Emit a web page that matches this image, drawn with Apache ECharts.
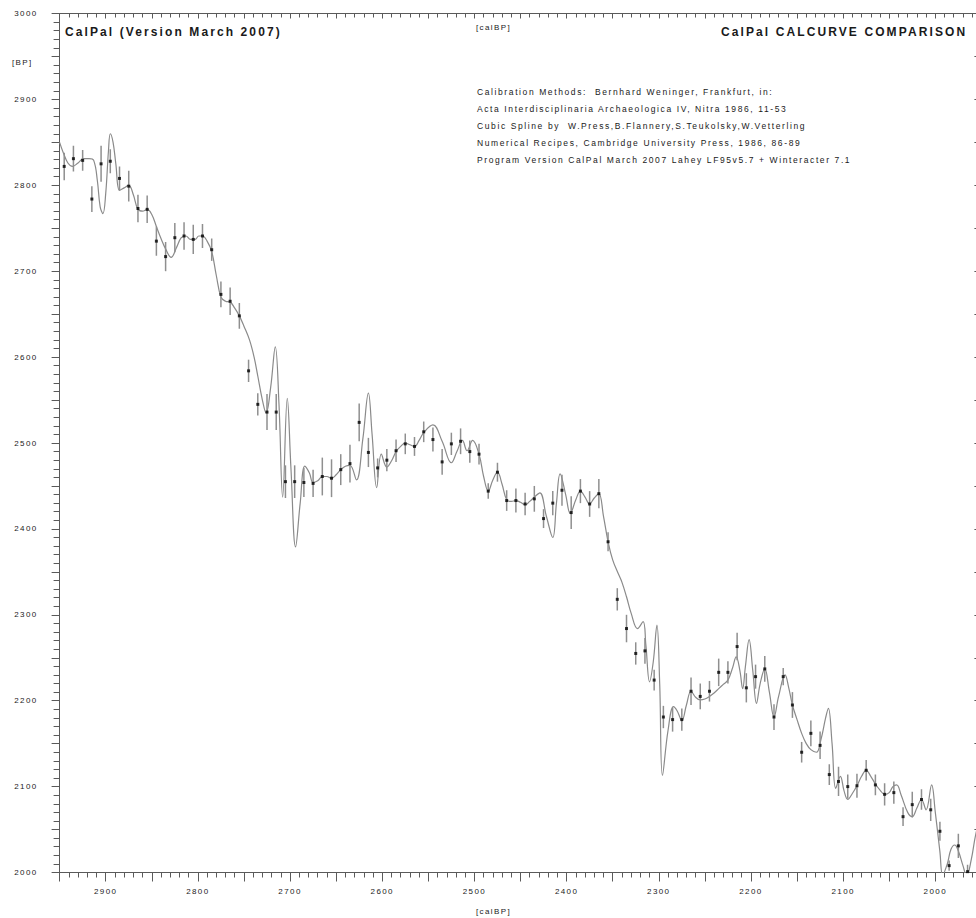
<!DOCTYPE html>
<html>
<head>
<meta charset="utf-8">
<script src="https://cdn.jsdelivr.net/npm/echarts@6/dist/echarts.min.js"></script>
<style>
  html, body { margin: 0; padding: 0; background: #fff; }
  #chart { width: 976px; height: 918px; }
  #chart text { letter-spacing: 1.4px; white-space: pre; }
  #chart text[style*="8.5px"] { letter-spacing: 1.6px; }
  #chart text[style*="bold"] { letter-spacing: 2.1px; }
</style>
</head>
<body>
<div id="chart"></div>
<script>
// Decadal 14C ages (cal BP, BP, 1-sigma)
const pointYears = [2945, 2935, 2925, 2915, 2905, 2895, 2885, 2875, 2865, 2855,
  2845, 2835, 2825, 2815, 2805, 2795, 2785, 2775, 2765, 2755,
  2745, 2735, 2725, 2715, 2705, 2695, 2685, 2675, 2665, 2655,
  2645, 2635, 2625, 2615, 2605, 2595, 2585, 2575, 2565, 2555,
  2545, 2535, 2525, 2515, 2505, 2495, 2485, 2475, 2465, 2455,
  2445, 2435, 2425, 2415, 2405, 2395, 2385, 2375, 2365, 2355,
  2345, 2335, 2325, 2315, 2305, 2295, 2285, 2275, 2265, 2255,
  2245, 2235, 2225, 2215, 2205, 2195, 2185, 2175, 2165, 2155,
  2145, 2135, 2125, 2115, 2105, 2095, 2085, 2075, 2065, 2055,
  2045, 2035, 2025, 2015, 2005, 1995, 1985, 1975, 1965];
const pointBP = [2822, 2831, 2829, 2784, 2825, 2828, 2808, 2799, 2773, 2772,
  2735, 2717, 2739, 2741, 2737, 2741, 2725, 2673, 2665, 2648,
  2584, 2545, 2536, 2536, 2455, 2455, 2454, 2453, 2461, 2459,
  2469, 2476, 2524, 2489, 2471, 2480, 2491, 2499, 2496, 2513,
  2504, 2478, 2499, 2502, 2490, 2487, 2444, 2466, 2433, 2433,
  2429, 2435, 2412, 2430, 2445, 2419, 2444, 2429, 2441, 2385,
  2318, 2284, 2255, 2258, 2224, 2181, 2178, 2178, 2211, 2205,
  2211, 2233, 2233, 2263, 2215, 2228, 2237, 2181, 2228, 2195,
  2140, 2162, 2148, 2114, 2106, 2100, 2101, 2119, 2102, 2091,
  2093, 2065, 2079, 2085, 2073, 2048, 2008, 2031, 2001];
const pointSigma = [16, 15, 12, 15, 21, 14, 14, 18, 16, 16,
  17, 17, 17, 16, 17, 14, 13, 15, 16, 15,
  13, 13, 21, 21, 19, 19, 17, 16, 22, 22,
  18, 22, 22, 17, 11, 13, 13, 12, 11, 12,
  14, 15, 13, 15, 13, 12, 9, 11, 12, 14,
  13, 15, 11, 14, 18, 19, 14, 15, 17, 11,
  13, 16, 13, 15, 12, 13, 14, 13, 16, 15,
  12, 16, 13, 16, 17, 14, 15, 15, 10, 15,
  12, 15, 16, 12, 17, 14, 14, 12, 12, 13,
  13, 11, 15, 12, 13, 11, 6, 14, 8];

// CalPal spline calibration curve (cal BP, BP)
const curveYears = [2950, 2946, 2941, 2936, 2930, 2924, 2918, 2913, 2909, 2906,
  2903, 2900, 2897, 2895, 2892, 2889, 2885, 2880, 2875, 2870,
  2865, 2860, 2855, 2850, 2845, 2840, 2835, 2829, 2823, 2818,
  2813, 2808, 2803, 2799, 2795, 2790, 2785, 2780, 2775, 2770,
  2765, 2760, 2755, 2750, 2744, 2739, 2735, 2730, 2726, 2721,
  2716, 2712, 2708, 2703, 2699, 2694, 2689, 2684, 2679, 2675,
  2670, 2665, 2660, 2655, 2650, 2645, 2640, 2635, 2628, 2621,
  2615, 2611, 2606, 2601, 2595, 2590, 2585, 2580, 2575, 2570,
  2565, 2560, 2555, 2545, 2535, 2525, 2519, 2513, 2508, 2502,
  2495, 2490, 2485, 2480, 2475, 2470, 2465, 2460, 2455, 2450,
  2445, 2440, 2435, 2429, 2422, 2415, 2411, 2407, 2401, 2396,
  2390, 2385, 2380, 2375, 2370, 2365, 2360, 2355, 2350, 2344,
  2340, 2335, 2330, 2323, 2317, 2314, 2310, 2306, 2302, 2299,
  2296, 2290, 2284, 2280, 2275, 2270, 2265, 2260, 2255, 2250,
  2245, 2240, 2235, 2230, 2225, 2220, 2216, 2212, 2209, 2206,
  2202, 2198, 2194, 2190, 2185, 2180, 2175, 2170, 2163, 2159,
  2155, 2150, 2145, 2140, 2135, 2129, 2124, 2119, 2116, 2112,
  2108, 2103, 2099, 2095, 2090, 2085, 2080, 2075, 2070, 2065,
  2060, 2055, 2050, 2046, 2042, 2037, 2030, 2025, 2020, 2015,
  2010, 2004, 2000, 1995, 1992, 1987, 1983, 1979, 1975, 1970,
  1966, 1961, 1956, 1950];
const curveBP = [2850, 2838, 2826, 2822, 2826, 2831, 2831, 2829, 2805, 2775,
  2767, 2790, 2840, 2860, 2850, 2825, 2794, 2797, 2800, 2789,
  2772, 2770, 2772, 2766, 2752, 2738, 2726, 2716, 2728, 2739,
  2741, 2737, 2737, 2741, 2741, 2735, 2723, 2695, 2670, 2665,
  2664, 2657, 2648, 2636, 2620, 2600, 2578, 2550, 2535, 2565,
  2612, 2545, 2437, 2552, 2470, 2379, 2430, 2473, 2465, 2454,
  2456, 2461, 2461, 2459, 2463, 2469, 2473, 2474, 2457, 2505,
  2558, 2510, 2448, 2487, 2472, 2479, 2490, 2496, 2500, 2498,
  2496, 2503, 2512, 2521, 2502, 2477, 2490, 2503, 2491, 2503,
  2487, 2461, 2444, 2457, 2466, 2452, 2434, 2432, 2433, 2431,
  2428, 2432, 2437, 2442, 2415, 2390, 2430, 2464, 2440, 2418,
  2434, 2444, 2437, 2429, 2436, 2441, 2415, 2385, 2364, 2348,
  2338, 2321, 2302, 2284, 2292, 2265, 2222, 2245, 2288, 2220,
  2113, 2165, 2193, 2188, 2177, 2195, 2211, 2204, 2201, 2202,
  2205, 2209, 2214, 2219, 2224, 2238, 2251, 2235, 2214, 2240,
  2271, 2235, 2197, 2220, 2237, 2210, 2181, 2205, 2230, 2215,
  2195, 2178, 2162, 2150, 2143, 2140, 2155, 2180, 2191, 2150,
  2098, 2112, 2095, 2085, 2092, 2101, 2112, 2119, 2112, 2103,
  2096, 2091, 2093, 2100, 2102, 2090, 2070, 2065, 2075, 2085,
  2073, 2102, 2070, 2024, 1997, 2010, 2027, 2032, 2025, 2008,
  1996, 2015, 2045, 2068];

const titleLeft = 'CalPal (Version March 2007)';
const titleRight = 'CalPal CALCURVE COMPARISON';
const axisUnitX = '[calBP]';
const axisUnitY = '[BP]';
const creditLines = [
  'Calibration Methods:  Bernhard Weninger, Frankfurt, in:',
  'Acta Interdisciplinaria Archaeologica IV, Nitra 1986, 11-53',
  'Cubic Spline by  W.Press,B.Flannery,S.Teukolsky,W.Vetterling',
  'Numerical Recipes, Cambridge University Press, 1986, 86-89',
  'Program Version CalPal March 2007 Lahey LF95v5.7 + Winteracter 7.1'
];

const FONT = '"Liberation Sans", Arial, sans-serif';
const AXIS_COLOR = '#5a5a5a';
const TEXT_COLOR = '#1a1a1a';

const curveData = curveYears.map((y, i) => [y, curveBP[i]]);
const pointData = pointYears.map((y, i) => [y, pointBP[i], pointSigma[i]]);

const hundreds = v => (Math.round(v) % 100 === 0 ? String(Math.round(v)) : '');

const chart = echarts.init(document.getElementById('chart'), null, { renderer: 'svg' });

const graphics = [
  { type: 'text', x: 65, y: 31.5, style: { text: titleLeft, font: 'bold 12px ' + FONT, fill: TEXT_COLOR, verticalAlign: 'middle' } },
  { type: 'text', x: 721, y: 31.5, style: { text: titleRight, font: 'bold 12px ' + FONT, fill: TEXT_COLOR, verticalAlign: 'middle' } },
  { type: 'text', x: 476, y: 27, style: { text: axisUnitX, font: '8px ' + FONT, fill: TEXT_COLOR, verticalAlign: 'middle' } },
  { type: 'text', x: 476, y: 911.5, style: { text: axisUnitX, font: '8px ' + FONT, fill: TEXT_COLOR, verticalAlign: 'middle' } },
  { type: 'text', x: 12, y: 62, style: { text: axisUnitY, font: '8px ' + FONT, fill: TEXT_COLOR, verticalAlign: 'middle' } }
];
const creditY = [91.5, 108.8, 125.8, 143, 160];
creditLines.forEach((t, i) => {
  graphics.push({ type: 'text', x: 477, y: creditY[i], style: { text: t, font: '8.5px ' + FONT, fill: TEXT_COLOR, verticalAlign: 'middle' } });
});

const xCommon = {
  type: 'value', min: 1950, max: 2950, interval: 50, inverse: true,
  splitLine: { show: false },
  axisLine: { show: true, lineStyle: { color: AXIS_COLOR, width: 1 } }
};
const yCommon = {
  type: 'value', min: 2000, max: 3000, interval: 50,
  splitLine: { show: false },
  axisLine: { show: true, lineStyle: { color: AXIS_COLOR, width: 1 } }
};

chart.setOption({
  animation: false,
  backgroundColor: '#ffffff',
  grid: { left: 59.6, top: 13.5, width: 921.8, height: 859, containLabel: false, outerBoundsMode: 'none' },
  xAxis: [
    Object.assign({}, xCommon, {
      position: 'bottom',
      axisTick: { show: true, inside: false, length: 9, lineStyle: { color: AXIS_COLOR } },
      minorTick: { show: true, splitNumber: 5, length: 5, lineStyle: { color: AXIS_COLOR } },
      axisLabel: { show: true, formatter: hundreds, margin: 15, fontFamily: FONT, fontSize: 8, color: TEXT_COLOR, showMinLabel: true, showMaxLabel: true }
    }),
    Object.assign({}, xCommon, {
      position: 'top',
      axisTick: { show: true, inside: true, length: 5, lineStyle: { color: AXIS_COLOR } },
      minorTick: { show: true, splitNumber: 5, length: 4, lineStyle: { color: AXIS_COLOR } },
      axisLabel: { show: false }
    })
  ],
  yAxis: [
    Object.assign({}, yCommon, {
      position: 'left',
      axisTick: { show: true, inside: false, length: 8, lineStyle: { color: AXIS_COLOR } },
      minorTick: { show: true, splitNumber: 5, length: 6, lineStyle: { color: AXIS_COLOR } },
      axisLabel: { show: true, formatter: hundreds, margin: 22, fontFamily: FONT, fontSize: 8, color: TEXT_COLOR, showMinLabel: true, showMaxLabel: true }
    }),
    Object.assign({}, yCommon, {
      position: 'right',
      axisTick: { show: true, inside: true, length: 7, lineStyle: { color: AXIS_COLOR } },
      minorTick: { show: true, splitNumber: 5, length: 4, lineStyle: { color: AXIS_COLOR } },
      axisLabel: { show: false }
    })
  ],
  graphic: graphics,
  series: [
    {
      name: 'CalPal curve', type: 'line', data: curveData,
      xAxisIndex: 0, yAxisIndex: 0,
      smooth: 0.4, showSymbol: false, clip: true,
      lineStyle: { color: '#8a8a8a', width: 1.2 }, z: 2
    },
    {
      name: 'sigma', type: 'custom', data: pointData,
      xAxisIndex: 0, yAxisIndex: 0, clip: true,
      renderItem: function (params, api) {
        const x = api.value(0), y = api.value(1), s = api.value(2);
        const top = api.coord([x, y + s]);
        const bot = api.coord([x, y - s]);
        return {
          type: 'line',
          shape: { x1: top[0], y1: top[1], x2: bot[0], y2: bot[1] },
          style: { stroke: '#8f8f8f', lineWidth: 1.5 }
        };
      },
      z: 3
    },
    {
      name: 'points', type: 'scatter', data: pointData.map(d => [d[0], d[1]]),
      xAxisIndex: 0, yAxisIndex: 0,
      symbol: 'rect', symbolSize: 3,
      itemStyle: { color: '#000' }, z: 4
    }
  ]
});
</script>
</body>
</html>
